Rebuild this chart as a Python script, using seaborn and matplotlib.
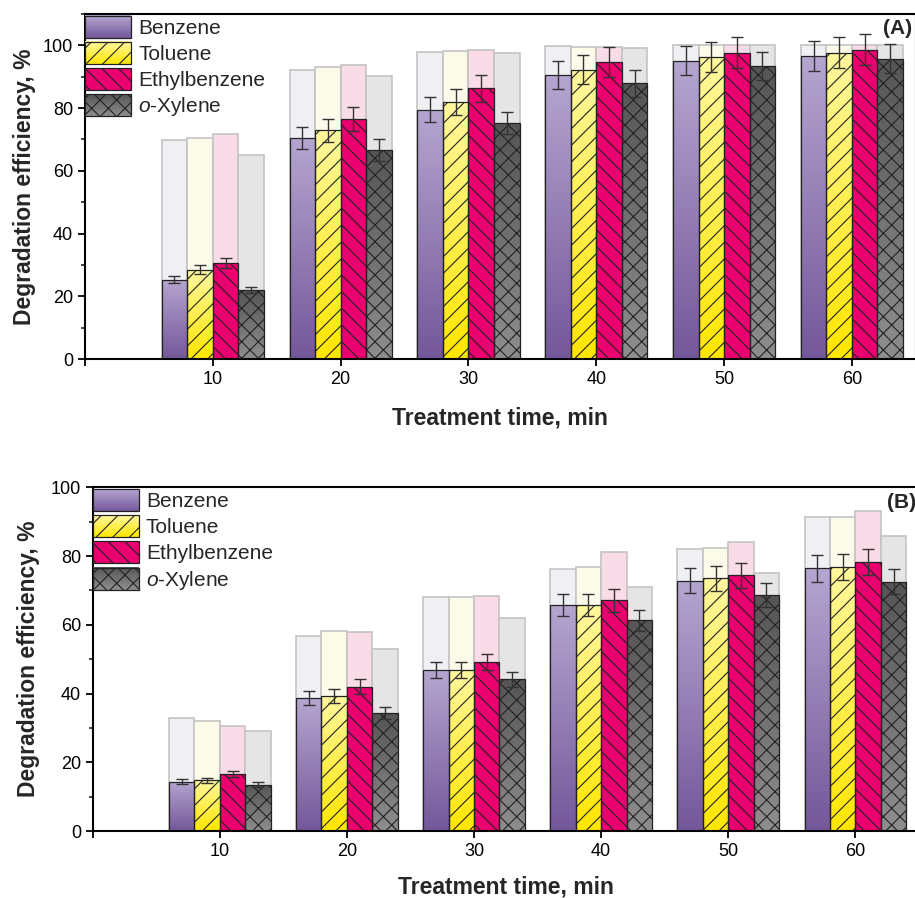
import numpy as np
import pandas as pd
import matplotlib
matplotlib.use("Agg")
import matplotlib.pyplot as plt
import seaborn as sns
from matplotlib.patches import Patch, Rectangle
from matplotlib.colors import LinearSegmentedColormap
from matplotlib.legend_handler import HandlerBase
from matplotlib.ticker import MultipleLocator

# ---------------- data ----------------
times = ["10", "20", "30", "40", "50", "60"]
compounds = ["Benzene", "Toluene", "Ethylbenzene", "o-Xylene"]
legend_labels = ["Benzene", "Toluene", "Ethylbenzene", r"$\it{o}$-Xylene"]

# Panel A
a_main_benzene = [25.3, 70.5, 79.5, 90.6, 95.1, 96.7]
a_main_toluene = [28.5, 72.9, 82.0, 92.3, 96.2, 97.7]
a_main_ethyl = [30.6, 76.6, 86.3, 94.7, 97.7, 98.6]
a_main_xylene = [22.0, 66.7, 75.2, 87.9, 93.4, 95.8]
a_err_benzene = [1.2, 3.6, 4.0, 4.5, 4.7, 4.8]
a_err_toluene = [1.5, 3.7, 4.1, 4.6, 4.8, 4.9]
a_err_ethyl = [1.5, 3.8, 4.3, 4.7, 4.9, 5.0]
a_err_xylene = [1.1, 3.5, 3.6, 4.3, 4.5, 4.7]
a_bg_benzene = [69.9, 92.1, 98.0, 99.7, 100.0, 100.0]
a_bg_toluene = [70.5, 93.1, 98.3, 99.5, 100.0, 100.0]
a_bg_ethyl = [71.7, 93.7, 98.5, 99.5, 100.0, 100.0]
a_bg_xylene = [64.9, 90.3, 97.5, 99.3, 100.0, 100.0]

# Panel B
b_main_benzene = [14.3, 38.6, 46.8, 65.8, 72.8, 76.4]
b_main_toluene = [14.7, 39.3, 46.9, 65.8, 73.5, 76.9]
b_main_ethyl = [16.6, 42.0, 49.2, 67.1, 74.4, 78.3]
b_main_xylene = [13.5, 34.3, 44.1, 61.3, 68.7, 72.5]
b_err_benzene = [0.7, 2.0, 2.3, 3.3, 3.6, 3.8]
b_err_toluene = [0.8, 2.0, 2.4, 3.3, 3.7, 3.8]
b_err_ethyl = [0.8, 2.1, 2.4, 3.35, 3.7, 3.9]
b_err_xylene = [0.7, 1.75, 2.2, 3.05, 3.4, 3.6]
b_bg_benzene = [32.9, 56.8, 68.0, 76.2, 82.1, 91.5]
b_bg_toluene = [32.0, 58.3, 68.1, 76.8, 82.3, 91.5]
b_bg_ethyl = [30.6, 58.0, 68.4, 81.1, 84.2, 93.0]
b_bg_xylene = [29.1, 52.9, 62.0, 71.1, 75.2, 85.8]

# ---------------- styles ----------------
grad_top = ["#b5a6d0", "#fff7a0", "#eb006f", "#555555"]
grad_bottom = ["#74579a", "#ffe600", "#eb006f", "#8e8e8e"]
hatches = ["", "//", "\\\\", "xx"]
bg_colors = ["#f0eef5", "#fffde6", "#ffd6e7", "#e5e5e5"]

sns.set_style("ticks")
plt.rcParams["font.family"] = ["Liberation Sans", "DejaVu Sans"]
plt.rcParams["mathtext.fontset"] = "custom"
plt.rcParams["mathtext.rm"] = "Liberation Sans"
plt.rcParams["mathtext.it"] = "Liberation Sans:italic"
plt.rcParams["hatch.linewidth"] = 0.8


def long_df(b, t, e, x):
    rows = []
    for comp, vals in zip(compounds, [b, t, e, x]):
        for tm, v in zip(times, vals):
            rows.append({"time": tm, "compound": comp, "value": v})
    return pd.DataFrame(rows)


class GradHandler(HandlerBase):
    def __init__(self, top, bottom, hatch):
        super().__init__()
        self.top, self.bottom, self.hatch = top, bottom, hatch

    def create_artists(self, legend, orig_handle, xdescent, ydescent,
                       width, height, fontsize, trans):
        cmap = LinearSegmentedColormap.from_list("h", [self.bottom, self.top])
        arts = []
        n = 20
        for i in range(n):
            arts.append(Rectangle((-xdescent, -ydescent + height * i / n),
                                  width, height / n + 0.4,
                                  facecolor=cmap((i + 0.5) / n), edgecolor="none",
                                  transform=trans))
        arts.append(Rectangle((-xdescent, -ydescent), width, height,
                              facecolor="none", edgecolor="#222222", lw=0.9,
                              hatch=self.hatch, transform=trans))
        return arts


def draw_panel(ax, main, err, bg, ylim, ytick_max):
    df_bg = long_df(*bg)
    df_main = long_df(*main)
    sns.barplot(data=df_bg, x="time", y="value", hue="compound",
                hue_order=compounds, order=times, palette=bg_colors,
                width=0.8, errorbar=None, legend=False, ax=ax,
                edgecolor="#c4c4c4", linewidth=1.2, zorder=0.5)
    n_before = len(ax.containers)
    sns.barplot(data=df_main, x="time", y="value", hue="compound",
                hue_order=compounds, order=times, palette=grad_bottom,
                width=0.8, errorbar=None, legend=False, ax=ax,
                edgecolor="#222222", linewidth=0.9, zorder=2)
    main_conts = ax.containers[n_before:]
    for ci, cont in enumerate(main_conts):
        cmap = LinearSegmentedColormap.from_list("g", [grad_bottom[ci], grad_top[ci]])
        grad = np.linspace(0, 1, 256).reshape(-1, 1)
        xs, ys = [], []
        for p in cont.patches:
            x0, w, h = p.get_x(), p.get_width(), p.get_height()
            im = ax.imshow(grad, extent=[x0, x0 + w, 0, h], origin="lower",
                           cmap=cmap, aspect="auto", zorder=1.6,
                           interpolation="bilinear")
            im.set_clip_path(p)
            p.set_facecolor("none")
            p.set_hatch(hatches[ci])
            xs.append(x0 + w / 2)
            ys.append(h)
        ax.errorbar(xs, ys, yerr=err[ci], fmt="none", ecolor="#333333",
                    elinewidth=1.0, capsize=4, capthick=1.0, zorder=3)

    ax.set_xlim(-1, 5.5)
    ax.set_ylim(*ylim)
    ax.set_xticks(range(-1, 6))
    ax.set_xticklabels([""] + times)
    ax.set_yticks(np.arange(0, ytick_max + 1, 20))
    ax.yaxis.set_minor_locator(MultipleLocator(10))
    ax.tick_params(axis="both", which="major", direction="out", length=5,
                   width=1.3, labelsize=13, color="black", labelcolor="black")
    ax.tick_params(axis="y", which="minor", direction="out", length=3, width=1.2)
    for s in ax.spines.values():
        s.set_visible(True)
        s.set_linewidth(1.5)
        s.set_color("black")

    handles = [Patch(label=l) for l in legend_labels]
    hmap = {h: GradHandler(grad_top[i], grad_bottom[i], hatches[i])
            for i, h in enumerate(handles)}
    ax.legend(handles=handles, labels=legend_labels, handler_map=hmap,
              loc="upper left", bbox_to_anchor=(0.0, 0.995), frameon=False,
              fontsize=15, handlelength=2.2, handleheight=1.25,
              labelspacing=0.2, handletextpad=0.35, borderaxespad=0,
              borderpad=0)


fig = plt.figure(figsize=(9.15, 8.98), dpi=100)
axA = fig.add_axes([0.0929, 0.6002, 0.908, 0.3842])
axB = fig.add_axes([0.1013, 0.0746, 0.903, 0.3827])

draw_panel(axA,
           [a_main_benzene, a_main_toluene, a_main_ethyl, a_main_xylene],
           [a_err_benzene, a_err_toluene, a_err_ethyl, a_err_xylene],
           [a_bg_benzene, a_bg_toluene, a_bg_ethyl, a_bg_xylene],
           (0, 110), 100)
draw_panel(axB,
           [b_main_benzene, b_main_toluene, b_main_ethyl, b_main_xylene],
           [b_err_benzene, b_err_toluene, b_err_ethyl, b_err_xylene],
           [b_bg_benzene, b_bg_toluene, b_bg_ethyl, b_bg_xylene],
           (0, 100), 100)

for ax, xl, yl in [(axA, -0.171, -0.0734), (axB, -0.162, -0.0771)]:
    ax.set_xlabel("Treatment time, min", fontsize=16.5, fontweight="bold", va="center")
    ax.xaxis.set_label_coords(0.5, xl)
    ax.set_ylabel("Degradation efficiency, %", fontsize=16.5, fontweight="bold", va="center")
    ax.yaxis.set_label_coords(yl, 0.5)

fig.text(883 / 915, 1 - 29 / 898, "(A)", fontsize=15, fontweight="bold", va="center", ha="left")
fig.text(887 / 915, 1 - 503 / 898, "(B)", fontsize=15, fontweight="bold", va="center", ha="left")

fig.savefig("out.png", dpi=100)
